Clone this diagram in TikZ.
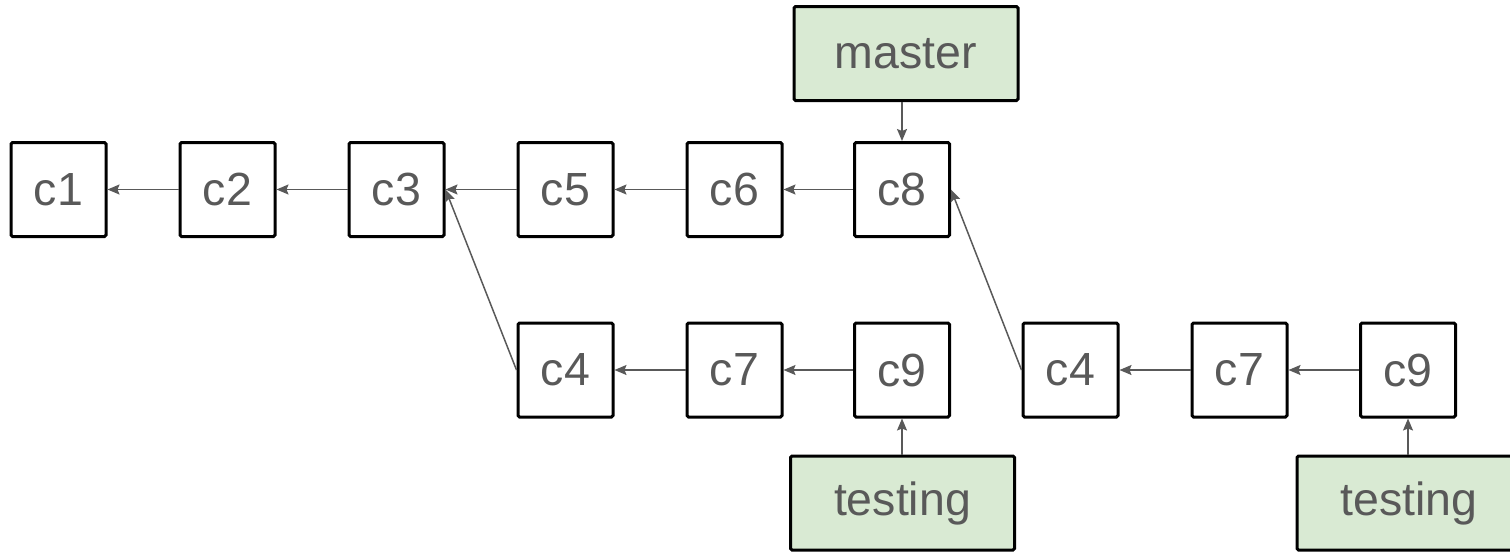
\documentclass[tikz,border=0pt]{standalone}
\usepackage{fontspec}
\setmainfont{Liberation Sans}
\usetikzlibrary{arrows.meta}
\definecolor{txtgray}{HTML}{595959}
\definecolor{brgreen}{HTML}{D9EAD3}
\begin{document}
\begin{tikzpicture}[x=1pt,y=-1pt,
  commit/.style={draw=black,line width=3pt,rounded corners=1.5pt,minimum width=95pt,minimum height=94pt,inner sep=0pt,text=txtgray,font=\fontsize{46.5}{55}\selectfont},
  branch/.style={commit,fill=brgreen,minimum width=224pt},
  link/.style={draw=txtgray,line width=1.5pt,-{Stealth[length=12pt,width=10pt,inset=2pt]}}]
\useasboundingbox (0,0) rectangle (1510,552);
\node[commit] (c1) at (58.5,189.5) {c1};
\node[commit] (c2) at (227.5,189.5) {c2};
\node[commit] (c3) at (396.5,189.5) {c3};
\node[commit] (c5) at (565.5,189.5) {c5};
\node[commit] (c6) at (734.5,189.5) {c6};
\node[commit] (c8) at (902,189.5) {c8};
\node[commit] (c4) at (565.5,370) {c4};
\node[commit] (c7) at (734.5,370) {c7};
\node[commit] (c9) at (902,370) {c9};
\node[commit] (d4) at (1070.5,370) {c4};
\node[commit] (d7) at (1239.5,370) {c7};
\node[commit] (d9) at (1408,370) {c9};
\node[branch] (master) at (906,53.5) {master};
\node[branch] (t1) at (902.5,503) {testing};
\node[branch] (t2) at (1409,503) {testing};
\draw[link] (c2) -- (c1);
\draw[link] (c3) -- (c2);
\draw[link] (c5) -- (c3);
\draw[link] (c6) -- (c5);
\draw[link] (c8) -- (c6);
\draw[link] (c7) -- (c4);
\draw[link] (c9) -- (c7);
\draw[link] (d7) -- (d4);
\draw[link] (d9) -- (d7);
\draw[link] (c4.west) -- (c3.east);
\draw[link] (d4.west) -- (c8.east);
\draw[link] (master.south -| c8) -- (c8.north);
\draw[link] (t1.north -| c9) -- (c9.south);
\draw[link] (t2.north -| d9) -- (d9.south);
\end{tikzpicture}
\end{document}
